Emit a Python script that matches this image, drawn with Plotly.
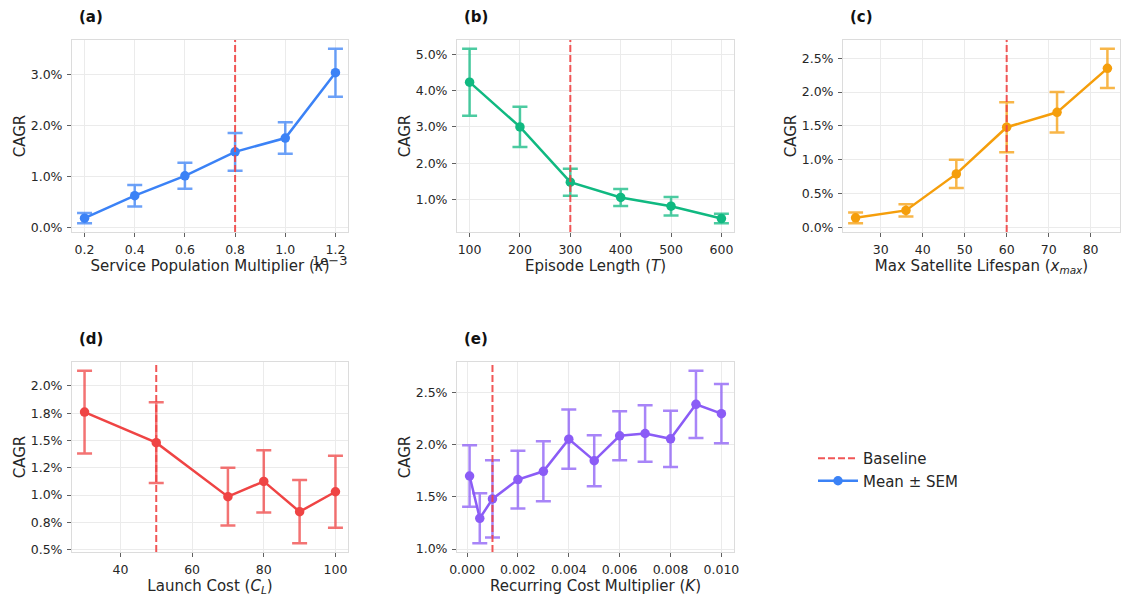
import plotly.graph_objects as go

# ---------------- data (CAGR in percent) ----------------
kappa = [0.2, 0.4, 0.6, 0.8, 1.0, 1.2]          # x 1e-3
cagr_a = [0.18, 0.62, 1.01, 1.48, 1.75, 3.03]
sem_a = [0.10, 0.21, 0.255, 0.37, 0.31, 0.47]

ep_len = [100, 200, 300, 400, 500, 600]
cagr_b = [4.23, 3.00, 1.48, 1.06, 0.82, 0.48]
sem_b = [0.92, 0.555, 0.37, 0.235, 0.255, 0.13]

lifespan = [24, 36, 48, 60, 72, 84]
cagr_c = [0.14, 0.25, 0.79, 1.48, 1.70, 2.35]
sem_c = [0.08, 0.09, 0.21, 0.37, 0.30, 0.29]

launch_cost = [30, 50, 70, 80, 90, 100]
cagr_d = [1.76, 1.48, 0.985, 1.125, 0.847, 1.03]
sem_d = [0.38, 0.37, 0.265, 0.285, 0.29, 0.33]

rec_cost = [0.0001, 0.0005, 0.001, 0.002, 0.003, 0.004, 0.005, 0.006,
            0.007, 0.008, 0.009, 0.010]
cagr_e = [1.70, 1.295, 1.48, 1.666, 1.745, 2.053, 1.847, 2.085, 2.107,
          2.056, 2.386, 2.297]
sem_e = [0.295, 0.24, 0.37, 0.277, 0.287, 0.283, 0.244, 0.235, 0.27,
         0.27, 0.323, 0.284]

baselines = [0.8, 300, 60, 50, 0.001]
panel_labels = ["(a)", "(b)", "(c)", "(d)", "(e)"]
x_titles = ["Service Population Multiplier (<i>κ</i>)",
            "Episode Length (<i>T</i>)",
            "Max Satellite Lifespan (<i>x</i><sub><i>max</i></sub>)",
            "Launch Cost (<i>C</i><sub><i>L</i></sub>)",
            "Recurring Cost Multiplier (<i>K</i>)"]
d_ticks = [0.5, 0.75, 1.0, 1.25, 1.5, 1.75, 2.0]
d_ticktext = ["0.5%", "0.8%", "1.0%", "1.2%", "1.5%", "1.8%", "2.0%"]

# ---------------- layout helpers ----------------
W, H = 1121, 601
def fx(p): return p / W
def fy(p): return 1 - p / H

colors = ["#3b82f6", "#10b981", "#f59e0b", "#ef4444", "#8b5cf6"]
err_colors = ["rgba(59,130,246,0.75)", "rgba(16,185,129,0.75)",
              "rgba(245,158,11,0.75)", "rgba(239,68,68,0.75)",
              "rgba(139,92,246,0.75)"]
boxes = [(72, 348, 40, 232), (457, 734, 40, 232), (843, 1120, 40, 232),
         (72, 348, 362, 552), (457, 734, 362, 552)]

xs = [kappa, ep_len, lifespan, launch_cost, rec_cost]
ys = [cagr_a, cagr_b, cagr_c, cagr_d, cagr_e]
es = [sem_a, sem_b, sem_c, sem_d, sem_e]

def pad_range(lo, hi, f=0.05):
    s = hi - lo
    return [lo - f * s, hi + f * s]

FONT = "DejaVu Sans"
TXT = "#262626"
GRID = "#ebebeb"
SPINE = "#dcdcdc"
TICKC = "#606060"

fig = go.Figure()
layout = dict(width=W, height=H, margin=dict(l=0, r=0, t=0, b=0),
              plot_bgcolor="white", paper_bgcolor="white",
              font=dict(family=FONT, size=12.5, color=TXT),
              showlegend=True, shapes=[], annotations=[])

for i in range(5):
    n = i + 1
    xa = "x" if n == 1 else f"x{n}"
    ya = "y" if n == 1 else f"y{n}"
    fig.add_trace(go.Scatter(
        x=xs[i], y=ys[i], mode="lines+markers", xaxis=xa, yaxis=ya,
        line=dict(color=colors[i], width=2.5),
        marker=dict(color=colors[i], size=9.5),
        error_y=dict(type="data", array=es[i], visible=True,
                     color=err_colors[i], thickness=2.5, width=7.5),
        name="Mean ± SEM", showlegend=(i == 0), legendrank=2))
    x0, x1, y0, y1 = boxes[i]
    lo = min(v - e for v, e in zip(ys[i], es[i]))
    hi = max(v + e for v, e in zip(ys[i], es[i]))
    xr = pad_range(min(xs[i]), max(xs[i]))
    yr = pad_range(lo, hi)
    xaxis = dict(domain=[fx(x0), fx(x1)], anchor=ya, range=xr,
                 automargin=False,
                 showgrid=True, gridcolor=GRID, gridwidth=1,
                 showline=True, linecolor=SPINE, linewidth=1, mirror=True,
                 ticks="outside", ticklen=4, tickcolor=TICKC,
                 ticklabelstandoff=2,
                 zeroline=False, tickfont=dict(size=12.5, color=TXT),
                 title=dict(text=x_titles[i], font=dict(size=15, color=TXT),
                            standoff=2))
    yaxis = dict(domain=[fy(y1), fy(y0)], anchor=xa, range=yr,
                 automargin=False,
                 showgrid=True, gridcolor=GRID, gridwidth=1,
                 showline=True, linecolor=SPINE, linewidth=1, mirror=True,
                 ticks="outside", ticklen=4, tickcolor=TICKC,
                 ticklabelstandoff=2,
                 zeroline=False, tickfont=dict(size=12.5, color=TXT),
                 title=dict(text="CAGR", font=dict(size=15, color=TXT),
                            standoff=1))
    if i == 0:
        xaxis.update(dtick=0.2, tick0=0.2, tickformat=".1f")
        yaxis.update(dtick=1.0, tick0=0, tickformat=".1f", ticksuffix="%")
    elif i == 1:
        xaxis.update(dtick=100, tick0=0)
        yaxis.update(dtick=1.0, tick0=0, tickformat=".1f", ticksuffix="%")
    elif i == 2:
        xaxis.update(dtick=10, tick0=0)
        yaxis.update(dtick=0.5, tick0=0, tickformat=".1f", ticksuffix="%")
    elif i == 3:
        xaxis.update(dtick=20, tick0=0)
        yaxis.update(tickmode="array", tickvals=d_ticks, ticktext=d_ticktext)
    else:
        xaxis.update(dtick=0.002, tick0=0, tickformat=".3f")
        yaxis.update(dtick=0.5, tick0=0, tickformat=".1f", ticksuffix="%")
    layout["xaxis" if n == 1 else f"xaxis{n}"] = xaxis
    layout["yaxis" if n == 1 else f"yaxis{n}"] = yaxis

    layout["shapes"].append(dict(
        type="line", xref=xa, yref=f"{ya} domain",
        x0=baselines[i], x1=baselines[i], y0=0, y1=1,
        line=dict(color="rgba(239,68,68,0.9)", width=2, dash="7px,3px"),
        layer="above"))
    layout["annotations"].append(dict(
        text=f"<b>{panel_labels[i]}</b>", xref="paper", yref="paper",
        x=fx(x0 + 5), y=fy(y0 - 23), xanchor="left", yanchor="middle",
        showarrow=False, font=dict(size=15, color="#111111")))

# offset text for panel (a)
layout["annotations"].append(dict(
    text="1e−3", xref="paper", yref="paper", x=fx(349), y=fy(260),
    xanchor="right", yanchor="middle", showarrow=False,
    font=dict(size=13, color=TXT)))

# legend entry for baseline
fig.add_trace(go.Scatter(x=[None], y=[None], mode="lines",
                         line=dict(color="rgba(239,68,68,0.9)", width=2,
                                   dash="7px,3px"),
                         name="Baseline", legendrank=1))

layout["legend"] = dict(x=fx(813), y=fy(442), xanchor="left", yanchor="top",
                        font=dict(size=15, color=TXT),
                        tracegroupgap=0,
                        bgcolor="rgba(0,0,0,0)", itemwidth=40)

fig.update_layout(**layout)
fig.write_html("out.html")
